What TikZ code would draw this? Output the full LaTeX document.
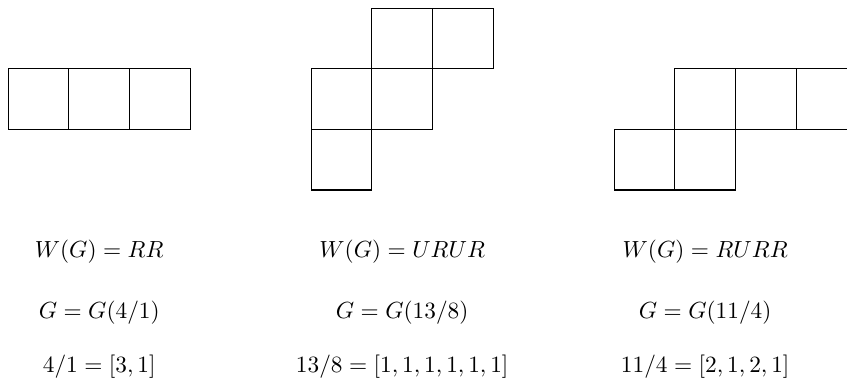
\documentclass[tikz,border=0pt]{standalone}
\begin{document}
\begin{tikzpicture}[x=1cm,y=1cm,
  cell/.style={draw=black, line width=0.5pt},
  lbl/.style={anchor=base, inner sep=0pt, font=\fontsize{10.5}{12.5}\selectfont}]
\useasboundingbox (-0.137,-3.152) rectangle (13.84,3.135);
\begin{scope}
\clip (-0.137,-3.152) rectangle (13.84,3.135);
% left snake: R R
\foreach \x/\y in {0/1,1/1,2/1}
  \draw[cell] (\x,\y) rectangle ++(1,1);
% middle snake: U R U R
\foreach \x/\y in {5/0,5/1,6/1,6/2,7/2}
  \draw[cell] (\x,\y) rectangle ++(1,1);
% right snake: R U R R
\foreach \x/\y in {10/0,11/0,11/1,12/1,13/1}
  \draw[cell] (\x,\y) rectangle ++(1,1);
\end{scope}
% captions
\node[lbl] (w1) at (1.5,-1.12) {$W(G) = RR$};
\node[lbl] (g1) at (1.5,-2.12) {$G = G(4/1)$};
\node[lbl] (c1) at (1.5,-3.02) {$4/1 = [3,1]$};
\node[lbl] (w2) at (6.5,-1.12) {$W(G) = URUR$};
\node[lbl] (g2) at (6.5,-2.12) {$G = G(13/8)$};
\node[lbl] (c2) at (6.5,-3.02) {$13/8 = [1,1,1,1,1,1]$};
\node[lbl] (w3) at (11.5,-1.12) {$W(G) = RURR$};
\node[lbl] (g3) at (11.5,-2.12) {$G = G(11/4)$};
\node[lbl] (c3) at (11.5,-3.02) {$11/4 = [2,1,2,1]$};
\end{tikzpicture}
\end{document}
